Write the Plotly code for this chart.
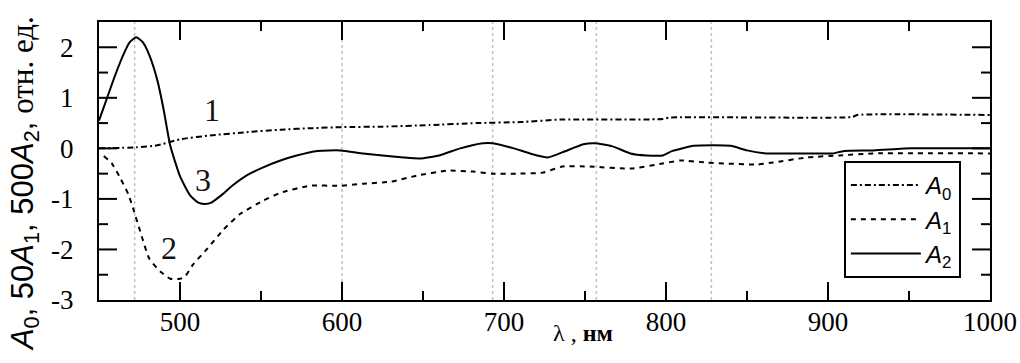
import plotly.graph_objects as go

# ---- data ----
lam_A0 = [450, 473, 486, 500, 520, 541, 562, 582, 600, 625, 654, 683, 710, 735, 798, 802, 915, 918, 1000]
A0 = [0.0, 0.02, 0.06, 0.18, 0.26, 0.32, 0.37, 0.40, 0.42, 0.43, 0.46, 0.50, 0.52, 0.57, 0.58, 0.61, 0.62, 0.66, 0.66]

lam_A1 = [453, 458, 463, 468, 471, 476, 481, 488, 494, 500, 503, 508, 517, 527, 537, 551, 562, 580, 599,
          613, 630, 646, 665, 681, 693, 708, 724, 736, 753, 778, 798, 809, 825, 856, 866, 887, 907, 928, 1000]
A1 = [-0.15, -0.3, -0.58, -0.9, -1.18, -1.7, -2.18, -2.44, -2.58, -2.58, -2.54, -2.3, -1.98, -1.6, -1.3, -1.04,
      -0.88, -0.74, -0.74, -0.7, -0.66, -0.54, -0.44, -0.46, -0.5, -0.5, -0.48, -0.36, -0.36, -0.4, -0.3, -0.24,
      -0.28, -0.32, -0.28, -0.18, -0.14, -0.1, -0.1]

lam_A2 = [450, 455, 460, 465, 469, 473, 477, 481, 486, 490, 494, 500, 506, 511, 515, 519, 525, 533, 542, 551,
          562, 572, 585, 599, 613, 625, 638, 648, 660, 673, 687, 693, 706, 716, 727, 736, 749, 756, 767, 778,
          788, 798, 804, 817, 829, 840, 850, 862, 887, 903, 910, 928, 952, 1000]
A2 = [0.55, 1.0, 1.45, 1.85, 2.1, 2.2, 2.1, 1.85, 1.35, 0.75, 0.05, -0.55, -0.92, -1.07, -1.1, -1.08, -0.94,
      -0.72, -0.52, -0.38, -0.24, -0.14, -0.05, -0.04, -0.1, -0.14, -0.18, -0.2, -0.14, 0.0, 0.1, 0.1, 0.0,
      -0.1, -0.18, -0.08, 0.08, 0.1, 0.04, -0.1, -0.14, -0.14, -0.05, 0.05, 0.06, 0.05, -0.04, -0.1, -0.1,
      -0.1, -0.05, -0.04, 0.0, 0.0]

lam_marks = [472, 600, 693, 757, 828]  # dotted vertical guide lines

curve_labels = ["1", "2", "3"]
label_lam = [520, 493, 514]
label_val = [0.76, -1.98, -0.62]

x_range = [450, 1000]
y_range = [-3, 2.5]
x_tickvals = [500, 600, 700, 800, 900, 1000]
x_ticktext = ["500", "600", "700", "800", "900", "1000"]
x_minor_ticks = [550, 650, 750, 850, 950]
y_tickvals = [-3, -2, -1, 0, 1, 2]
y_ticktext = ["-3", "-2", "-1", "0", "1", "2"]
y_minor_ticks = [-2.5, -1.5, -0.5, 0.5, 1.5]

SERIF = "Liberation Serif"
SANS = "Liberation Sans"
W, H = 1020, 363
M = dict(l=99, r=30, t=22, b=63)
MAJOR_LEN, MINOR_LEN = 18, 9  # tick lengths in pixels

# pixel -> data-unit conversion from the layout
plot_w = W - M["l"] - M["r"]
plot_h = H - M["t"] - M["b"]
x_per_px = (x_range[1] - x_range[0]) / plot_w
y_per_px = (y_range[1] - y_range[0]) / plot_h

fig = go.Figure()
fig.add_trace(go.Scatter(x=lam_A0, y=A0, mode="lines", name="<i>A</i><sub>0</sub>",
                         line=dict(color="black", width=2, dash="6px,3px,2px,3px", shape="spline", smoothing=0.5)))
fig.add_trace(go.Scatter(x=lam_A1, y=A1, mode="lines", name="<i>A</i><sub>1</sub>",
                         line=dict(color="black", width=2, dash="5px,5px", shape="spline", smoothing=0.5)))
fig.add_trace(go.Scatter(x=lam_A2, y=A2, mode="lines", name="<i>A</i><sub>2</sub>",
                         line=dict(color="black", width=2, shape="spline", smoothing=0.5)))

for lm in lam_marks:
    fig.add_vline(x=lm, line=dict(color="#c0c0c0", width=1.5, dash="dot"), layer="below")

# inward tick marks on all four edges, built from the tick lists
tx, ty = [], []
for vals, L in [(x_tickvals, MAJOR_LEN), (x_minor_ticks, MINOR_LEN)]:
    for v in vals:
        if v >= x_range[1]:
            continue
        tx += [v, v, None, v, v, None]
        ty += [y_range[0], y_range[0] + L * y_per_px, None,
               y_range[1], y_range[1] - L * y_per_px, None]
for vals, L in [(y_tickvals, MAJOR_LEN), (y_minor_ticks, MINOR_LEN)]:
    for v in vals:
        if v <= y_range[0]:
            continue
        tx += [x_range[0], x_range[0] + L * x_per_px, None,
               x_range[1], x_range[1] - L * x_per_px, None]
        ty += [v, v, None, v, v, None]
fig.add_trace(go.Scatter(x=tx, y=ty, mode="lines", line=dict(color="black", width=2),
                         showlegend=False, hoverinfo="skip", connectgaps=False))

for t, lx, ly in zip(curve_labels, label_lam, label_val):
    fig.add_annotation(x=lx, y=ly, text=t, showarrow=False,
                       font=dict(family=SERIF, size=32, color="#1a1010"))

# axis titles
fig.add_annotation(xref="paper", yref="paper", x=-0.083, y=0.417, textangle=-90,
                   text=("<span style='font-family:Liberation Sans'><i>A</i><sub>0</sub>, 50<i>A</i><sub>1</sub>, "
                         "500<i>A</i><sub>2</sub>,</span> отн. ед."),
                   showarrow=False, xanchor="center", yanchor="middle",
                   font=dict(family=SERIF, size=31, color="black"))
fig.add_annotation(xref="paper", yref="paper", x=0.543, y=-0.118, text="λ , <b>нм</b>",
                   showarrow=False, xanchor="center", yanchor="middle",
                   font=dict(family=SERIF, size=24, color="black"))

# axes: frame + labels
fig.update_xaxes(range=x_range, tickmode="array", tickvals=x_tickvals, ticktext=x_ticktext,
                 ticks="", showline=True, linewidth=2, linecolor="black", mirror=True,
                 showgrid=False, zeroline=False, ticklabelstandoff=-3,
                 tickfont=dict(family=SERIF, size=27, color="black"))
fig.update_yaxes(range=y_range, tickmode="array", tickvals=y_tickvals, ticktext=y_ticktext,
                 ticks="", showline=True, linewidth=2, linecolor="black", mirror=True,
                 showgrid=False, zeroline=False, ticklabelstandoff=18,
                 tickfont=dict(family=SERIF, size=27, color="black"))

fig.update_layout(width=W, height=H, margin=dict(**M, autoexpand=False),
                  paper_bgcolor="white", plot_bgcolor="white", showlegend=True,
                  legend=dict(x=0.836, y=0.50, xanchor="left", yanchor="top",
                              bgcolor="white", bordercolor="black", borderwidth=2,
                              itemwidth=70, font=dict(family=SANS, size=24, color="black"),
                              tracegroupgap=0))

fig.write_html("out.html", config={"displayModeBar": False},
               post_script="document.body.style.margin='0';")
